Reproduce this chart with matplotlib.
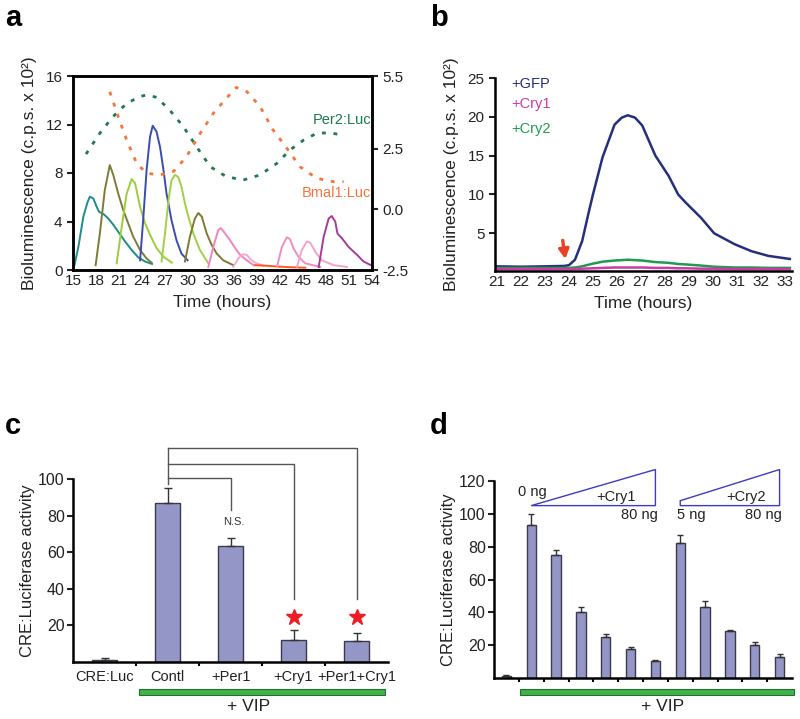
import numpy as np
import matplotlib
matplotlib.use("Agg")
import matplotlib.pyplot as plt
from matplotlib.patches import Rectangle, Polygon
from matplotlib.transforms import blended_transform_factory

plt.rcParams['font.family'] = ['Liberation Sans', 'DejaVu Sans']

# --- panel a: single-cell bioluminescence traces (left axis) ---
a_hours = [
    [15.1, 15.7, 16.35, 16.9, 17.2, 17.65, 18.1, 18.4, 19.0, 19.6, 20.3, 20.9, 21.8, 22.65, 23.5, 24.4, 25.3],
    [17.95, 18.5, 19.15, 19.8, 20.25, 20.9, 21.55, 22.2, 22.85, 23.75, 24.6, 25.25],
    [20.7, 21.35, 22.0, 22.65, 23.1, 23.75, 24.4, 25.05, 25.9, 26.8, 27.9],
    [23.75, 24.15, 24.6, 25.05, 25.4, 25.9, 26.35, 26.8, 27.2, 27.85, 28.5, 29.15, 29.95],
    [26.55, 27.0, 27.45, 27.85, 28.3, 28.75, 29.15, 29.6, 30.05, 30.7, 31.55, 32.65],
    [29.6, 30.25, 30.9, 31.35, 31.8, 32.45, 33.1, 33.75, 34.6, 35.9],
    [32.65, 33.3, 33.95, 34.3, 34.85, 35.5, 36.15, 36.8, 37.65, 38.55],
    [35.9, 36.55, 37.2, 37.65, 38.3, 38.95, 39.85],
    [38.75, 40.25, 42.0, 43.75, 45.3],
    [41.6, 42.25, 42.9, 43.3, 43.75, 44.4, 45.3, 47.25],
    [44.2, 44.85, 45.5, 45.95, 46.6, 47.45, 49.0, 50.75],
    [47.05, 47.7, 48.35, 48.75, 49.2, 49.5, 50.1, 50.95, 52.05, 52.9, 53.85],
]
a_values = [
    [0.15, 1.9, 4.4, 5.6, 6.05, 5.9, 5.2, 4.8, 4.6, 4.25, 3.7, 3.15, 2.35, 1.65, 1.05, 0.7, 0.5],
    [0.4, 3.0, 6.6, 8.65, 7.85, 6.3, 4.95, 3.85, 2.75, 1.65, 0.95, 0.6],
    [0.55, 3.55, 6.3, 7.5, 7.15, 5.2, 3.85, 2.9, 1.8, 1.1, 0.6],
    [0.8, 4.1, 8.25, 11.0, 11.9, 11.4, 10.15, 8.25, 6.3, 4.1, 2.45, 1.35, 0.8],
    [0.7, 3.0, 5.75, 7.4, 7.85, 7.65, 6.85, 5.5, 4.4, 3.0, 1.65, 0.55],
    [0.7, 2.75, 4.25, 4.7, 4.4, 3.0, 2.05, 1.35, 0.8, 0.4],
    [0.25, 1.9, 3.3, 3.45, 3.0, 2.45, 1.8, 1.25, 0.8, 0.4],
    [0.25, 0.95, 1.3, 1.25, 0.8, 0.55, 0.35],
    [0.4, 0.35, 0.27, 0.22, 0.19],
    [0.25, 1.9, 2.7, 2.55, 1.8, 1.1, 0.55, 0.25],
    [0.25, 1.65, 2.35, 2.25, 1.5, 0.8, 0.4, 0.25],
    [0.25, 2.75, 4.25, 4.45, 4.0, 3.0, 2.6, 1.9, 1.25, 0.7, 0.4],
]
a_colors = ['#1e8c8a', '#7f7a36', '#9cce3c', '#3a4cb0', '#a2d044', '#7f7a30',
            '#f084bc', '#f4a8cf', '#ff5a1e', '#f08cc2', '#f4a2cc', '#a43c9c']

# --- panel a: population reporters (right axis) ---
per2_hours = [16.7, 18.5, 20.2, 22.0, 23.7, 24.6, 25.9, 27.6, 29.4, 31.1, 32.9, 35.0,
              37.2, 39.4, 41.6, 43.3, 45.1, 46.8, 48.6, 49.9]
per2_values = [2.28, 3.14, 3.82, 4.37, 4.65, 4.72, 4.62, 4.1, 3.41, 2.59, 1.76, 1.35,
               1.21, 1.42, 1.9, 2.45, 2.86, 3.14, 3.16, 3.07]
bmal1_hours = [19.8, 20.9, 22.0, 23.3, 24.6, 26.3, 28.1, 29.8, 31.6, 33.3, 35.0, 36.3,
               37.7, 39.4, 41.1, 42.9, 44.6, 46.8, 49.0, 50.3]
bmal1_values = [4.85, 3.82, 2.86, 1.9, 1.49, 1.42, 1.56, 2.17, 3.14, 3.96, 4.58, 5.03,
                4.85, 4.24, 3.27, 2.52, 1.76, 1.28, 1.14, 1.14]

# --- panel b ---
b_hours = [21.0, 22.0, 23.0, 23.8, 24.0, 24.25, 24.55, 24.8, 25.0, 25.4, 25.9, 26.2,
           26.45, 26.75, 27.05, 27.6, 28.15, 28.55, 28.85, 29.5, 30.05, 30.9, 31.6,
           32.3, 33.2]
gfp = [0.75, 0.7, 0.75, 0.8, 0.9, 1.6, 4.0, 7.4, 10.0, 14.8, 19.0, 19.9,
       20.2, 19.9, 18.9, 15.0, 12.4, 10.0, 9.0, 7.0, 5.0, 3.6, 2.7,
       2.1, 1.7]
cry1 = [0.4, 0.4, 0.4, 0.4, 0.4, 0.42, 0.45, 0.48, 0.5, 0.55, 0.6, 0.6,
        0.6, 0.6, 0.6, 0.55, 0.55, 0.5, 0.5, 0.45, 0.45, 0.4, 0.4,
        0.4, 0.4]
cry2 = [0.55, 0.55, 0.55, 0.55, 0.55, 0.6, 0.75, 0.95, 1.1, 1.35, 1.5, 1.55,
        1.6, 1.55, 1.5, 1.3, 1.2, 1.05, 1.0, 0.85, 0.7, 0.6, 0.6,
        0.55, 0.55]

# --- panel c ---
c_labels = ['CRE:Luc', 'Contl', '+Per1', '+Cry1', '+Per1+Cry1']
c_values = [1.0, 87.0, 63.5, 12.0, 11.5]
c_errors = [1.0, 8.0, 4.5, 5.5, 4.5]

# --- panel d ---
d_values = [1.0, 93.0, 75.0, 40.0, 25.0, 17.5, 10.5, 82.0, 43.5, 28.5, 20.0, 13.0]
d_errors = [1.0, 7.0, 3.0, 3.5, 2.0, 1.5, 0.7, 5.0, 3.5, 0.8, 2.0, 1.5]

W, H = 800, 719
fig = plt.figure(figsize=(W / 100, H / 100), dpi=100)


def px_axes(l, t, r, b):
    return fig.add_axes([l / W, 1 - b / H, (r - l) / W, (b - t) / H])


TICK = '#222222'
BAR = '#9496c8'

# ================= a =================
ax = px_axes(73, 76, 372, 270)
for hrs, vals, col in zip(a_hours, a_values, a_colors):
    ax.plot(hrs, vals, color=col, lw=1.4)
ax.set_xlim(15, 54)
ax.set_ylim(0, 16)
ax.set_xticks(range(15, 55, 3))
ax.set_yticks([0, 4, 8, 12, 16])
ax.tick_params(axis='x', length=0, pad=3, labelsize=11, colors=TICK)
ax.tick_params(axis='y', length=4, width=1.5, labelsize=11, colors=TICK)
ax.set_xlabel('Time (hours)', fontsize=12.5, color=TICK, labelpad=5)
ax.set_ylabel('Bioluminescence (c.p.s. x 10²)', fontsize=12.5, color=TICK, labelpad=6)
for s in ax.spines.values():
    s.set_linewidth(1.8)

tw = ax.twinx()
tw.plot(per2_hours, per2_values, color='#1f7a4c', lw=2.0, ls=(0, (1.4, 2.8)))
tw.plot(bmal1_hours, bmal1_values, color='#f4753e', lw=2.0, ls=(0, (1.4, 2.8)))
tw.set_ylim(-2.5, 5.5)
tw.set_yticks([-2.5, 0, 2.5, 5.5])
tw.set_yticklabels(['-2.5', '0.0', '2.5', '5.5'])
tw.tick_params(axis='y', length=4, width=1.5, labelsize=11, colors=TICK)
for s in tw.spines.values():
    s.set_linewidth(1.8)
tw.text(53.9, 3.69, 'Per2:Luc', color='#1f7a4c', fontsize=10.5, ha='right', va='center')
tw.text(53.9, 0.69, 'Bmal1:Luc', color='#f4753e', fontsize=10.5, ha='right', va='center')

# ================= b =================
bx = px_axes(495, 78, 792, 271)
bx.plot(b_hours, gfp, color='#262f7c', lw=1.8)
bx.plot(b_hours, cry2, color='#1f9a50', lw=1.8)
bx.plot(b_hours, cry1, color='#cc3aa6', lw=1.8)
bx.set_xlim(20.92, 33.29)
bx.set_ylim(0.15, 25)
bx.set_xticks(range(21, 34))
bx.set_yticks([5, 10, 15, 20, 25])
bx.tick_params(axis='x', length=0, pad=3, labelsize=11, colors=TICK)
bx.tick_params(axis='y', length=4, width=1.5, labelsize=11, colors=TICK)
bx.spines['top'].set_visible(False)
bx.spines['right'].set_visible(False)
for s in ('left', 'bottom'):
    bx.spines[s].set_linewidth(1.8)
bx.set_xlabel('Time (hours)', fontsize=12.5, color=TICK, labelpad=5)
bx.set_ylabel('Bioluminescence (c.p.s. x 10²)', fontsize=12.5, color=TICK, labelpad=6)
bx.text(21.6, 24.2, '+GFP', color='#262f7c', fontsize=10.5, va='center')
bx.text(21.6, 21.6, '+Cry1', color='#cc3aa6', fontsize=10.5, va='center')
bx.text(21.6, 18.4, '+Cry2', color='#1f9a50', fontsize=10.5, va='center')
bx.annotate('', xy=(23.85, 1.7), xytext=(23.74, 4.1),
            arrowprops=dict(arrowstyle='-|>,head_width=0.3,head_length=0.55',
                            color='#ea4025', lw=2.4, shrinkA=0, shrinkB=0))

# ================= c =================
cx = px_axes(73, 479, 388, 662)
xc = np.arange(len(c_values))
cx.bar(xc, c_values, width=0.41, color=BAR, edgecolor='#3a3a4a', lw=1.0, zorder=2)
cx.errorbar(xc, c_values, yerr=[np.zeros(len(c_values)), c_errors], fmt='none',
            ecolor='#333333', elinewidth=1.0, capsize=3, capthick=1.0, zorder=3)
cx.set_xlim(-0.5, 4.5)
cx.set_ylim(0, 100)
cx.set_xticks(xc)
cx.set_xticklabels(c_labels)
cx.set_xticks(xc[:-1] + 0.5, minor=True)
cx.set_yticks([20, 40, 60, 80, 100])
cx.tick_params(axis='x', which='major', length=0, pad=6, labelsize=10.5, colors=TICK)
cx.tick_params(axis='x', which='minor', length=3, width=1.5, direction='out')
cx.tick_params(axis='y', length=4, width=1.5, labelsize=11.5, colors=TICK, pad=2)
cx.spines['top'].set_visible(False)
cx.spines['right'].set_visible(False)
for s in ('left', 'bottom'):
    cx.spines[s].set_linewidth(1.8)
cx.set_ylabel('CRE:Luciferase activity', fontsize=12, color=TICK, labelpad=2)

bk = dict(color='#555555', lw=1.0, clip_on=False)
cx.plot([1, 1], [97.5, 117.1], **bk)
cx.plot([1, 2, 2], [100.4, 100.4, 83.1], **bk)
cx.plot([1, 3, 3], [108.0, 108.0, 34.2], **bk)
cx.plot([1, 4, 4], [117.1, 117.1, 34.2], **bk)
cx.text(2.05, 76.5, 'N.S.', fontsize=8, ha='center', va='center', color='#333333')
cx.plot([3, 4], [24.5, 24.5], ls='none', marker='*', ms=12, color='#ee1c24',
        clip_on=False)

tc = blended_transform_factory(cx.transData, cx.transAxes)
cx.add_patch(Rectangle((0.55, -0.18), 3.9, 0.032, transform=tc, clip_on=False,
                       facecolor='#3cb44a', edgecolor='#2a6a30', lw=0.8))
cx.text(2.28, -0.245, '+ VIP', transform=tc, fontsize=12.5, ha='center', va='center',
        color=TICK)

# ================= d =================
dx = px_axes(494, 481, 792, 678)
xd = np.arange(len(d_values))
dx.bar(xd, d_values, width=0.38, color=BAR, edgecolor='#3a3a4a', lw=1.0, zorder=2)
dx.errorbar(xd, d_values, yerr=[np.zeros(len(d_values)), d_errors], fmt='none',
            ecolor='#333333', elinewidth=1.0, capsize=2.5, capthick=1.0, zorder=3)
dx.set_xlim(-0.5, 11.5)
dx.set_ylim(0, 120)
dx.set_xticks([])
dx.set_xticks(xd[:-1] + 0.5, minor=True)
dx.set_yticks([20, 40, 60, 80, 100, 120])
dx.tick_params(axis='x', which='minor', length=3, width=1.5, direction='out')
dx.tick_params(axis='y', length=4, width=1.5, labelsize=11.5, colors=TICK, pad=2)
dx.spines['top'].set_visible(False)
dx.spines['right'].set_visible(False)
for s in ('left', 'bottom'):
    dx.spines[s].set_linewidth(1.8)
dx.set_ylabel('CRE:Luciferase activity', fontsize=12, color=TICK, labelpad=2)

tri = dict(fill=False, edgecolor='#3c3cc0', lw=1.0, clip_on=False)
dx.add_patch(Polygon([(1.0, 105), (6.0, 105), (6.0, 127)], closed=True, **tri))
dx.add_patch(Polygon([(7.0, 105), (11.0, 105), (11.0, 127), (7.0, 108)], closed=True, **tri))
dx.text(1.05, 113.5, '0 ng', fontsize=10.5, ha='center', va='center', color=TICK)
dx.text(4.4, 110.5, '+Cry1', fontsize=10.5, ha='center', va='center', color=TICK)
dx.text(6.1, 99.5, '80 ng', fontsize=10.5, ha='right', va='center', color=TICK)
dx.text(7.45, 99.5, '5 ng', fontsize=10.5, ha='center', va='center', color=TICK)
dx.text(9.65, 110.5, '+Cry2', fontsize=10.5, ha='center', va='center', color=TICK)
dx.text(10.35, 99.5, '80 ng', fontsize=10.5, ha='center', va='center', color=TICK)

td = blended_transform_factory(dx.transData, dx.transAxes)
dx.add_patch(Rectangle((0.55, -0.086), 11.03, 0.03, transform=td, clip_on=False,
                       facecolor='#3cb44a', edgecolor='#2a6a30', lw=0.8))
dx.text(6.27, -0.147, '+ VIP', transform=td, fontsize=12.5, ha='center', va='center',
        color=TICK)

# panel letters
for lx, ly, s in [(5, 26, 'a'), (430, 26, 'b'), (5, 434, 'c'), (430, 434, 'd')]:
    fig.text(lx / W, 1 - ly / H, s, fontsize=21, fontweight='bold', va='baseline')

fig.savefig('out.png', dpi=100)
